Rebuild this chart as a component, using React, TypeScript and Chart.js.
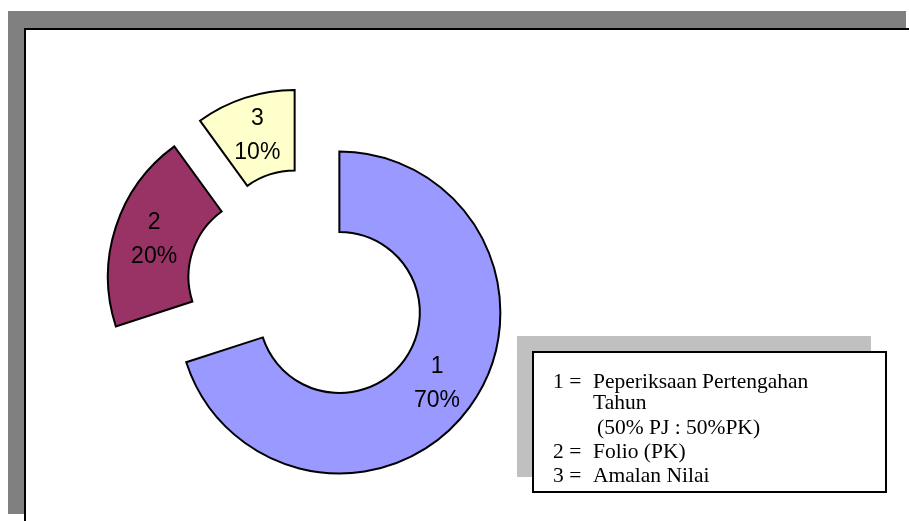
import React, { useEffect, useRef } from "react";
import { Chart, registerables } from "chart.js";

Chart.register(...registerables);

const categories = ["1", "2", "3"];
const values = [70, 20, 10];
const sliceColors = ["#9999FF", "#993366", "#FFFFCC"];

const legendKeys = ["1 =", "2 =", "3 ="];
const legendLines = [
  ["Peperiksaan", "Pertengahan"],
  ["Tahun"],
  ["(50% PJ : 50%PK)"],
  ["Folio (PK)"],
  ["Amalan Nilai"],
];

const W = 909;
const H = 521;
const EXPLODE = 40;

const explodePlugin = {
  id: "explodeSlices",
  afterDatasetUpdate(chart: any, args: any) {
    const meta = args.meta;
    meta.data.forEach((arc: any) => {
      const mid = (arc.startAngle + arc.endAngle) / 2;
      arc.x += Math.cos(mid) * EXPLODE;
      arc.y += Math.sin(mid) * EXPLODE;
    });
  },
};

const framePlugin = {
  id: "frameDecor",
  beforeDraw(chart: any) {
    const ctx = chart.ctx;
    ctx.save();
    ctx.fillStyle = "#ffffff";
    ctx.fillRect(0, 0, W, H);
    // outer shadow
    ctx.fillStyle = "#808080";
    ctx.fillRect(8, 11, 898, 503);
    // plot frame
    ctx.fillStyle = "#ffffff";
    ctx.fillRect(25, 29, W, H);
    ctx.strokeStyle = "#000000";
    ctx.lineWidth = 2;
    ctx.strokeRect(25, 29, W + 10, H + 10);
    // legend shadow
    ctx.fillStyle = "#C0C0C0";
    ctx.fillRect(517, 336, 354, 141);
    ctx.fillStyle = "#ffffff";
    ctx.fillRect(533, 352, 353, 140);
    ctx.strokeStyle = "#000000";
    ctx.lineWidth = 2;
    ctx.strokeRect(533, 352, 353, 140);
    ctx.restore();
  },
  afterDatasetsDraw(chart: any) {
    const ctx = chart.ctx;
    ctx.save();
    // data labels
    const meta = chart.getDatasetMeta(0);
    const total = values.reduce((a, b) => a + b, 0);
    ctx.fillStyle = "#000000";
    ctx.font = '23px "Liberation Sans", Arial, sans-serif';
    ctx.textAlign = "center";
    ctx.textBaseline = "middle";
    meta.data.forEach((arc: any, i: number) => {
      const p = arc.getCenterPoint();
      ctx.fillText(categories[i], p.x, p.y - 17);
      ctx.fillText(Math.round((values[i] / total) * 100) + "%", p.x, p.y + 17);
    });
    // legend text
    ctx.font = '21.5px "Liberation Serif", "Times New Roman", serif';
    ctx.textAlign = "left";
    ctx.textBaseline = "alphabetic";
    const baselines = [388, 409, 434, 458, 482];
    ctx.fillText(legendKeys[0], 553, baselines[0]);
    ctx.fillText(legendLines[0][0], 593, baselines[0]);
    ctx.fillText(legendLines[0][1], 702, baselines[0]);
    ctx.fillText(legendLines[1][0], 593, baselines[1]);
    ctx.fillText(legendLines[2][0], 597, baselines[2]);
    ctx.fillText(legendKeys[1], 553, baselines[3]);
    ctx.fillText(legendLines[3][0], 593, baselines[3]);
    ctx.fillText(legendKeys[2], 553, baselines[4]);
    ctx.fillText(legendLines[4][0], 593, baselines[4]);
    ctx.restore();
  },
};

export default function App() {
  const ref = useRef<HTMLCanvasElement | null>(null);

  useEffect(() => {
    if (!ref.current) return;
    const chart = new Chart(ref.current, {
      type: "doughnut",
      data: {
        labels: categories,
        datasets: [
          {
            data: values,
            backgroundColor: sliceColors,
            borderColor: "#000000",
            borderWidth: 2,
            borderJoinStyle: "miter",
            offset: 0,
          } as any,
        ],
      },
      options: {
        responsive: false,
        animation: false,
        devicePixelRatio: 1,
        radius: 161,
        cutout: "50%",
        rotation: 0,
        layout: { padding: { left: 0, right: 295, top: 57, bottom: 0 } },
        plugins: {
          legend: { display: false },
          tooltip: { enabled: false },
        },
        events: [],
      } as any,
      plugins: [explodePlugin, framePlugin],
    });
    return () => chart.destroy();
  }, []);

  return (
    <div style={{ position: "absolute", left: 0, top: 0, width: W, height: H, background: "#fff" }}>
      <canvas ref={ref} width={W} height={H} style={{ display: "block", width: W, height: H }} />
    </div>
  );
}
